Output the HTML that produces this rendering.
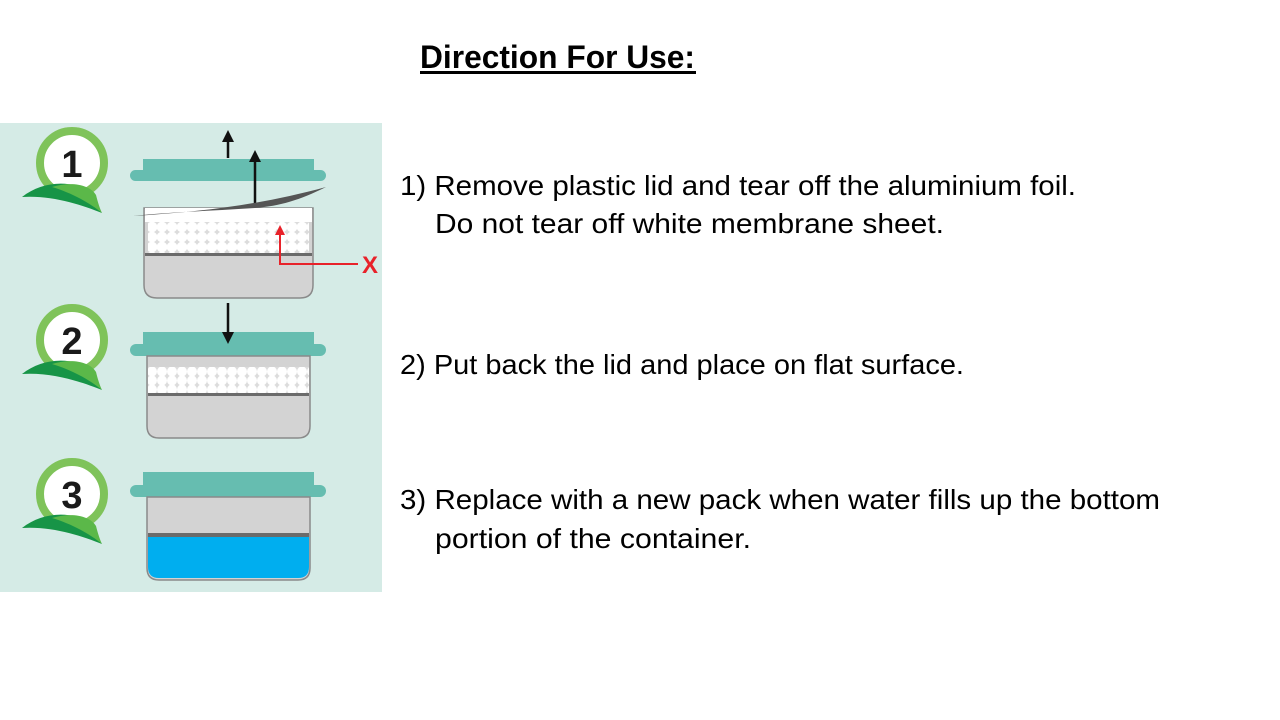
<!DOCTYPE html>
<html><head><meta charset="utf-8"><style>
html,body{margin:0;padding:0;background:#fff;}
svg{display:block;}
text{font-family:"Liberation Sans",sans-serif;}
</style></head><body>
<svg width="1280" height="720" viewBox="0 0 1280 720" xmlns="http://www.w3.org/2000/svg">
<defs>
<pattern id="balls" x="147" y="222" width="10" height="10" patternUnits="userSpaceOnUse">
<rect width="10" height="10" fill="#dcdcdc"/>
<circle cx="5" cy="5" r="5.3" fill="#fff"/>
</pattern>
<pattern id="balls2" x="147" y="367" width="10" height="9" patternUnits="userSpaceOnUse">
<rect width="10" height="9" fill="#dcdcdc"/>
<circle cx="5" cy="4.5" r="5" fill="#fff"/>
</pattern>
<marker id="ah" markerWidth="12" markerHeight="12" refX="6" refY="6" orient="auto" markerUnits="userSpaceOnUse"><path d="M0,0 L12,6 L0,12 Z" fill="#111"/></marker>
<marker id="ahr" markerWidth="10" markerHeight="10" refX="5" refY="5" orient="auto" markerUnits="userSpaceOnUse"><path d="M0,0 L10,5 L0,10 Z" fill="#e8222a"/></marker>
<g id="badge">
<circle cx="0" cy="0" r="32" fill="#fff" stroke="#7fc35a" stroke-width="8"/>
<path d="M-50,34 C-30,18 0,16 20,30 C24,38 26,46 30,50 C10,42 -20,32 -50,34 Z" fill="#179447"/>
<path d="M-20,24 C0,18 18,22 24,32 C26,40 28,46 30,50 C18,40 0,30 -20,24 Z" fill="#5bb849"/>
</g>
</defs>
<text x="420" y="68" font-size="32" font-weight="bold" textLength="275" lengthAdjust="spacingAndGlyphs">Direction For Use:</text>
<rect x="420" y="71" width="276" height="3" fill="#000"/>

<rect x="0" y="123" width="382" height="469" fill="#d5ebe6"/>

<use href="#badge" x="72" y="163"/>
<text x="72" y="177" font-size="38" font-weight="bold" text-anchor="middle" fill="#1a1a1a">1</text>
<use href="#badge" x="72" y="340"/>
<text x="72" y="354" font-size="38" font-weight="bold" text-anchor="middle" fill="#1a1a1a">2</text>
<use href="#badge" x="72" y="494"/>
<text x="72" y="508" font-size="38" font-weight="bold" text-anchor="middle" fill="#1a1a1a">3</text>

<!-- step 1 -->
<rect x="143" y="159" width="171" height="14" fill="#66bdb0"/>
<rect x="130" y="170" width="196" height="11" rx="5.5" fill="#66bdb0"/>
<line x1="228" y1="158" x2="228" y2="136" stroke="#111" stroke-width="2.5" marker-end="url(#ah)"/>
<line x1="255" y1="207" x2="255" y2="156" stroke="#111" stroke-width="2.5" marker-end="url(#ah)"/>
<path d="M144,208 H313 V285 Q313,298 300,298 H157 Q144,298 144,285 Z" fill="#d3d3d3" stroke="#8a8a8a" stroke-width="1.5"/>
<rect x="145" y="208" width="167" height="14" fill="#fff"/>
<rect x="148" y="222" width="161" height="31" fill="url(#balls)"/>
<rect x="145" y="253" width="167" height="3" fill="#6b6b6b"/>
<path d="M133,216 C200,212 260,205 326,187 C300,200 280,206 255,208 C210,211 170,212 133,216 Z" fill="#555"/>
<path d="M280,264 L280,230" stroke="#e8222a" stroke-width="2" fill="none" marker-end="url(#ahr)"/>
<line x1="279" y1="264" x2="358" y2="264" stroke="#e8222a" stroke-width="2"/>
<text x="370" y="273" font-size="24" font-weight="bold" fill="#e8222a" text-anchor="middle">X</text>

<!-- step 2 -->
<rect x="143" y="332" width="171" height="14" fill="#66bdb0"/>
<rect x="130" y="344" width="196" height="12" rx="6" fill="#66bdb0"/>
<path d="M147,356 H310 V426 Q310,438 298,438 H159 Q147,438 147,426 Z" fill="#d3d3d3" stroke="#8a8a8a" stroke-width="1.5"/>
<rect x="148" y="367" width="161" height="26" fill="url(#balls2)"/>
<rect x="148" y="393" width="161" height="3" fill="#6b6b6b"/>
<line x1="228" y1="303" x2="228" y2="338" stroke="#111" stroke-width="2.5" marker-end="url(#ah)"/>

<!-- step 3 -->
<rect x="143" y="472" width="171" height="14" fill="#66bdb0"/>
<rect x="130" y="485" width="196" height="12" rx="6" fill="#66bdb0"/>
<path d="M147,497 H310 V568 Q310,580 298,580 H159 Q147,580 147,568 Z" fill="#d3d3d3" stroke="#8a8a8a" stroke-width="1.5"/>
<path d="M148,537 H309 V567 Q309,578 298,578 H159 Q148,578 148,567 Z" fill="#00aeef"/>
<rect x="148" y="533" width="161" height="4" fill="#6b6b6b"/>

<g font-size="28" fill="#000">
<text x="400" y="195" textLength="676" lengthAdjust="spacingAndGlyphs">1) Remove plastic lid and tear off the aluminium foil.</text>
<text x="435" y="233" textLength="509" lengthAdjust="spacingAndGlyphs">Do not tear off white membrane sheet.</text>
<text x="400" y="374" textLength="564" lengthAdjust="spacingAndGlyphs">2) Put back the lid and place on flat surface.</text>
<text x="400" y="509" textLength="760" lengthAdjust="spacingAndGlyphs">3) Replace with a new pack when water fills up the bottom</text>
<text x="435" y="548" textLength="316" lengthAdjust="spacingAndGlyphs">portion of the container.</text>
</g>
</svg>
</body></html>
